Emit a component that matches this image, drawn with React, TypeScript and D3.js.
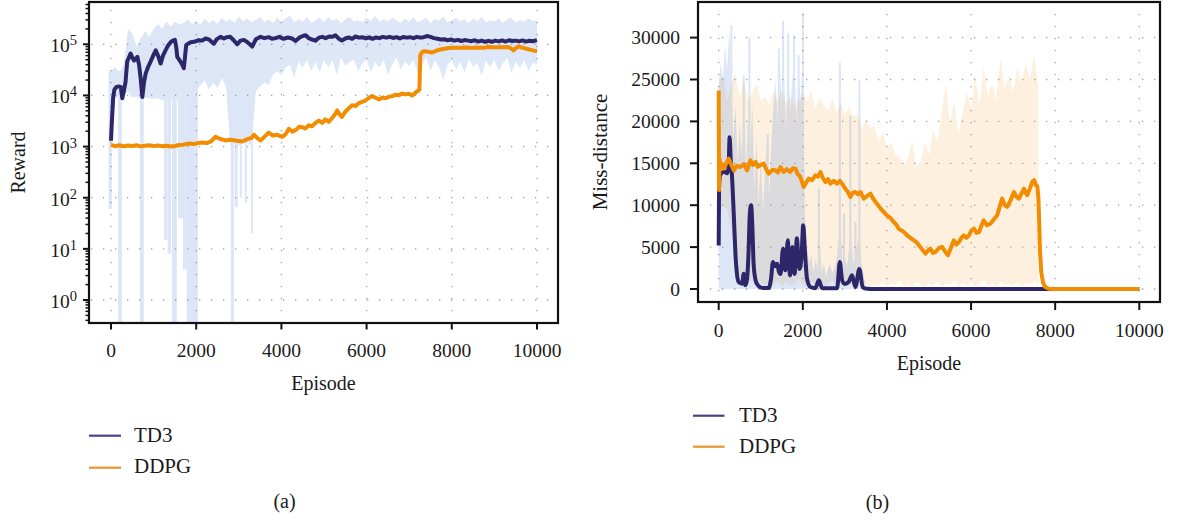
import React from 'react';
import * as d3 from 'd3';

const FONT = '"Liberation Serif", "Times New Roman", serif';
const NAVY = '#2d2669';
const ORANGE = '#f28c00';
const RAW_BLUE = 'rgb(90,135,220)';
const TEXT = '#1a1a1a';

const episodeTicks = [0, 2000, 4000, 6000, 8000, 10000];
const rewardExponents = [0, 1, 2, 3, 4, 5];
const missTicks = [0, 5000, 10000, 15000, 20000, 25000, 30000];
const seriesNames = ['TD3', 'DDPG'];
const RAW_STEP = 100;
const TD3_MISS_STEP = 50;

// ---- (a) Reward, smoothed curves [episode, reward]
const td3Reward: [number, number][] = [
  [0, 1300], [20, 3000], [50, 9000], [80, 13000], [120, 14500], [180, 15000], [230, 14500], [265, 8800], [300, 12000], [340, 18000],
  [380, 46000], [420, 55000], [460, 66000], [500, 55000], [540, 48000], [580, 52000], [620, 57000], [660, 39000], [700, 20000], [735, 9300],
  [775, 18000], [815, 27000], [870, 36000], [930, 46000], [990, 60000], [1050, 76000], [1110, 58000], [1165, 42000], [1220, 60000], [1280, 76000],
  [1340, 95000], [1400, 110000], [1450, 118000], [1500, 122000], [1530, 90000], [1555, 57000], [1600, 50000], [1630, 46000], [1670, 40000], [1710, 34000],
  [1740, 60000], [1765, 96000], [1820, 104000], [1870, 110000], [1950, 112000], [2060, 120000], [2140, 118000], [2220, 130000], [2300, 124000], [2360, 112000],
  [2415, 103000], [2480, 125000], [2570, 140000], [2650, 130000], [2720, 138000], [2800, 140000], [2880, 120000], [2960, 100000], [3040, 118000], [3120, 122000],
  [3200, 110000], [3260, 100000], [3315, 90000], [3400, 125000], [3510, 140000], [3600, 132000], [3700, 138000], [3780, 128000], [3860, 132000], [3950, 140000],
  [4050, 128000], [4150, 136000], [4250, 130000], [4330, 116000], [4420, 135000], [4500, 145000], [4570, 150000], [4650, 130000], [4720, 124000], [4800, 118000],
  [4880, 135000], [4960, 140000], [5040, 132000], [5120, 142000], [5200, 140000], [5270, 150000], [5340, 130000], [5420, 118000], [5500, 130000], [5580, 136000],
  [5660, 128000], [5740, 142000], [5820, 135000], [5900, 138000], [5980, 130000], [6060, 137000], [6140, 128000], [6220, 136000], [6300, 132000], [6380, 140000],
  [6460, 135000], [6540, 140000], [6620, 133000], [6700, 138000], [6780, 130000], [6860, 139000], [6940, 135000], [7020, 138000], [7100, 132000], [7180, 140000],
  [7260, 135000], [7340, 138000], [7420, 145000], [7500, 140000], [7580, 132000], [7660, 128000], [7740, 124000], [7820, 126000], [7900, 120000], [7980, 124000],
  [8060, 118000], [8140, 122000], [8220, 116000], [8300, 121000], [8380, 118000], [8460, 115000], [8540, 120000], [8620, 113000], [8700, 118000], [8780, 112000],
  [8860, 117000], [8940, 112000], [9020, 118000], [9100, 114000], [9180, 119000], [9260, 113000], [9340, 120000], [9420, 116000], [9500, 118000], [9580, 114000],
  [9660, 119000], [9740, 113000], [9820, 117000], [9900, 115000], [10000, 121000],
];

const ddpgReward: [number, number][] = [
  [0, 1080], [100, 1020], [200, 1060], [300, 1010], [400, 1050], [500, 1030], [600, 1060], [700, 1010], [800, 1040], [900, 1060],
  [1000, 1020], [1100, 1050], [1200, 1020], [1300, 1040], [1400, 1000], [1500, 1030], [1600, 1070], [1700, 1090], [1830, 1150], [1950, 1120],
  [2050, 1180], [2140, 1200], [2250, 1170], [2350, 1260], [2450, 1550], [2550, 1420], [2690, 1320], [2800, 1360], [2950, 1300], [3080, 1260],
  [3200, 1400], [3300, 1480], [3360, 1700], [3440, 1450], [3510, 1320], [3600, 1550], [3700, 1870], [3800, 1650], [3900, 1700], [4020, 1550],
  [4100, 1750], [4175, 2230], [4260, 1950], [4350, 2150], [4420, 2450], [4490, 2400], [4560, 2250], [4640, 2600], [4720, 2500], [4800, 2900],
  [4880, 3230], [4960, 2900], [5030, 3400], [5110, 3030], [5200, 3700], [5260, 4300], [5310, 5100], [5360, 4300], [5420, 3800], [5500, 4800],
  [5580, 5600], [5660, 6450], [5740, 6200], [5810, 7000], [5890, 7450], [5960, 7800], [6040, 8800], [6130, 9700], [6210, 9000], [6290, 8400],
  [6380, 9100], [6450, 8800], [6520, 9400], [6600, 9700], [6680, 10300], [6760, 10100], [6830, 10900], [6900, 10500], [6990, 10800], [7070, 10000],
  [7140, 11200], [7220, 12600], [7240, 13000], [7260, 61000], [7300, 70000], [7340, 73000], [7420, 72000], [7540, 69000], [7620, 74000], [7700, 78000],
  [7800, 81000], [7930, 84700], [8050, 86000], [8200, 85500], [8350, 86500], [8470, 85000], [8600, 87000], [8750, 86000], [8860, 88700], [9000, 87500],
  [9150, 88000], [9330, 88700], [9400, 82000], [9450, 76000], [9500, 84000], [9570, 91400], [9650, 86000], [9800, 80000], [9900, 76000], [10000, 73000],
];

// raw TD3 reward envelope, one value per 100 episodes (0..10000)
const td3RawRewardHigh = [
  3.1e4, 3.5e4, 2.8e4, 4.0e4, 2.0e5, 1.6e5, 9.0e4, 1.3e5, 1.8e5, 1.4e5,
  2.0e5, 2.5e5, 2.0e5, 2.8e5, 2.2e5, 2.8e5, 2.4e5, 2.6e5, 3.1e5, 2.5e5,
  2.8e5, 2.4e5, 3.2e5, 2.6e5, 3.0e5, 2.5e5, 3.3e5, 2.8e5, 3.1e5, 2.6e5,
  3.5e5, 2.8e5, 3.2e5, 2.7e5, 3.0e5, 3.4e5, 2.7e5, 3.1e5, 2.6e5, 3.3e5,
  2.8e5, 3.2e5, 3.6e5, 2.7e5, 3.1e5, 2.8e5, 3.4e5, 2.6e5, 3.0e5, 3.3e5,
  2.7e5, 3.5e5, 2.9e5, 3.2e5, 2.6e5, 3.1e5, 3.4e5, 2.8e5, 3.0e5, 2.7e5,
  3.3e5, 2.9e5, 3.6e5, 2.7e5, 3.1e5, 2.8e5, 3.3e5, 3.0e5, 2.6e5, 3.2e5,
  2.8e5, 3.4e5, 2.7e5, 3.0e5, 3.3e5, 2.6e5, 3.1e5, 2.9e5, 3.5e5, 2.7e5,
  3.0e5, 3.3e5, 2.8e5, 3.1e5, 2.6e5, 3.2e5, 2.9e5, 3.4e5, 2.7e5, 3.0e5,
  2.8e5, 3.2e5, 2.6e5, 3.1e5, 3.3e5, 2.7e5, 3.0e5, 2.8e5, 3.2e5, 2.9e5,
  3.0e5,
];
const td3RawRewardLow = [
  1.5e3, 9.0e3, 9.5e3, 1.0e4, 1.2e4, 9.0e3, 9.5e3, 8.5e3, 9.0e3, 8.8e3,
  8.5e3, 9.0e3, 8.0e3, 8.5e3, 9.0e3, 8.0e3, 8.5e3, 1.0e4, 7.5e3, 8.0e3,
  1.2e4, 1.6e4, 2.0e4, 1.3e4, 1.8e4, 1.4e4, 2.2e4, 1.5e4, 1.0e3, 1.2e3,
  1.0e3, 1.5e3, 1.2e3, 1.0e3, 1.2e4, 1.5e4, 1.8e4, 1.6e4, 2.5e4, 3.0e4,
  2.5e4, 3.5e4, 4.0e4, 2.2e4, 4.5e4, 3.5e4, 5.0e4, 3.0e4, 4.5e4, 2.8e4,
  5.0e4, 3.5e4, 4.8e4, 2.5e4, 5.5e4, 3.8e4, 4.5e4, 5.0e4, 3.0e4, 4.2e4,
  5.2e4, 2.8e4, 4.5e4, 3.5e4, 5.0e4, 2.5e4, 4.0e4, 5.5e4, 3.2e4, 4.5e4,
  3.8e4, 5.0e4, 2.6e4, 4.2e4, 5.5e4, 3.0e4, 4.8e4, 3.5e4, 2.0e4, 4.0e4,
  5.0e4, 3.2e4, 4.5e4, 2.8e4, 5.2e4, 3.6e4, 4.4e4, 2.4e4, 4.8e4, 3.5e4,
  5.0e4, 3.0e4, 4.2e4, 5.5e4, 2.8e4, 4.6e4, 3.4e4, 5.0e4, 3.0e4, 4.4e4,
  4.0e4,
];
// deep drops of raw TD3 reward: [from episode, to episode, lowest reward]
const td3RewardDrops: [number, number, number][] = [
  [-60, 20, 60], [165, 255, 0.2], [680, 770, 0.2], [1245, 1330, 15], [1330, 1410, 8],
  [1430, 1545, 0.2], [1570, 1690, 40], [1690, 1780, 4], [1780, 2040, 0.2], [2815, 2885, 0.2],
  [2905, 2975, 65], [3025, 3070, 100], [3140, 3190, 80], [3285, 3330, 20],
];

// ---- (b) Miss-distance, smoothed curves
const td3Miss: [number, number][] = [
  [0, 5200], [8, 12000], [30, 13500], [80, 13900], [150, 14000], [200, 13800], [235, 14500], [260, 18100], [285, 15500], [310, 14000],
  [340, 11000], [370, 7500], [400, 4000], [430, 2000], [475, 840], [520, 700], [555, 640], [595, 1830], [635, 440], [675, 1230],
  [710, 4420], [740, 9000], [770, 9980], [800, 7500], [830, 3000], [870, 1200], [910, 600], [990, 200], [1070, 120], [1190, 120],
  [1245, 1230], [1290, 3220], [1340, 2700], [1390, 3000], [1430, 2100], [1470, 1800], [1530, 4810], [1560, 3000], [1585, 2230], [1645, 5810],
  [1670, 3000], [1700, 1630], [1750, 5010], [1780, 3000], [1805, 1800], [1860, 6050], [1895, 3500], [1925, 2400], [1970, 4000], [2010, 7600],
  [2050, 4500], [2100, 1200], [2180, 240], [2300, 100], [2380, 1030], [2460, 100], [2815, 100], [2880, 3220], [2935, 1030], [3000, 600],
  [3090, 840], [3170, 1630], [3250, 240], [3345, 2400], [3425, 200], [3530, 30], [3700, 0], [10000, 0],
];

const ddpgMiss: [number, number][] = [
  [0, 23700], [8, 11800], [20, 15500], [40, 14760], [80, 14900], [120, 14360], [180, 15000], [240, 15550], [300, 14800], [360, 14160],
  [430, 14700], [515, 14560], [600, 14900], [675, 14160], [755, 15355], [815, 14800], [875, 15160], [930, 14600], [990, 14760], [1070, 14960],
  [1130, 14300], [1190, 13760], [1270, 14200], [1350, 14160], [1410, 13900], [1470, 14560], [1545, 13960], [1620, 14300], [1700, 13960], [1760, 14400],
  [1825, 14360], [1880, 13700], [1940, 13370], [1980, 12800], [2020, 12170], [2080, 12700], [2140, 13170], [2220, 13000], [2300, 13560], [2360, 13400],
  [2420, 13960], [2480, 13200], [2540, 12770], [2600, 13100], [2655, 12570], [2740, 12900], [2815, 12570], [2880, 12900], [2935, 12570], [3010, 11970],
  [3070, 11600], [3130, 10980], [3190, 11500], [3250, 11575], [3310, 11300], [3370, 11575], [3450, 10780], [3530, 11100], [3610, 11380], [3670, 10800],
  [3730, 10380], [3790, 10000], [3850, 9590], [3920, 9200], [4000, 8790], [4080, 8500], [4160, 8000], [4220, 7700], [4280, 7200], [4380, 6900],
  [4480, 6400], [4560, 6100], [4640, 5810], [4700, 5600], [4760, 5210], [4840, 4700], [4915, 4220], [4975, 4600], [5035, 4810], [5095, 4300],
  [5155, 4420], [5235, 4900], [5315, 5010], [5380, 4500], [5450, 4020], [5520, 4900], [5590, 5810], [5650, 5300], [5710, 5610], [5770, 6100],
  [5830, 6400], [5890, 6100], [5950, 6400], [6010, 7000], [6070, 7200], [6130, 6700], [6190, 6800], [6250, 7600], [6300, 8195], [6380, 7600],
  [6460, 7800], [6540, 8300], [6620, 8790], [6680, 9800], [6740, 10780], [6800, 10000], [6860, 9790], [6940, 10600], [7020, 11575], [7080, 11000],
  [7140, 10780], [7200, 11400], [7260, 11970], [7300, 11500], [7335, 11200], [7400, 12000], [7455, 12770], [7500, 13000], [7540, 12400], [7575, 12300],
  [7600, 11000], [7620, 8000], [7640, 4500], [7670, 2000], [7710, 800], [7760, 250], [7850, 30], [7950, 0], [10000, 0],
];

// raw DDPG miss-distance envelope, one value per 100 episodes (0..7600)
const ddpgRawMissHigh = [
  25000, 25500, 22500, 24500, 25800, 23000, 25000, 22500, 23500, 24500,
  22500, 23000, 22000, 23500, 22500, 23800, 22200, 23000, 21800, 22500,
  23500, 22300, 23700, 21500, 22800, 22000, 21200, 22700, 21000, 22300,
  20800, 21800, 20500, 21000, 19200, 20200, 19000, 19600, 17500, 18800,
  16800, 17500, 16000, 15800, 14800, 15500, 17800, 14600, 15200, 17500,
  16000, 19000, 17500, 21000, 24500, 19500, 22500, 18500, 21000, 23500,
  21500, 25500, 21800, 26500, 23000, 24500, 22500, 27500, 24000, 25500,
  23500, 26500, 24500, 27000, 25000, 28000, 24000,
];
const ddpgRawMissLow = [
  9000, 10000, 9500, 7000, 3000, 1500, 800, 600, 1200, 400,
  900, 300, 700, 500, 1000, 300, 800, 400, 600, 1100,
  500, 300, 900, 400, 700, 200, 600, 1000, 300, 500,
  800, 400, 700, 300, 900, 500, 200, 600, 400, 800,
  300, 700, 500, 1000, 400, 600, 300, 800, 500, 200,
  700, 400, 900, 300, 600, 500, 1000, 300, 700, 400,
  800, 300, 600, 1100, 400, 700, 300, 900, 500, 600,
  400, 800, 300, 700, 500, 900, 600,
];
// raw TD3 miss-distance envelope, one value per 50 episodes (0..3500)
const td3RawMissHigh = [
  24000, 27000, 25000, 29000, 26000, 31000, 24000, 18000, 22000, 15000,
  20000, 16000, 24000, 14000, 21000, 17000, 22000, 12000, 18000, 10000,
  16000, 9000, 14000, 18000, 11000, 17000, 22000, 25000, 20000, 27000,
  22000, 26000, 19000, 28000, 21000, 25000, 27000, 20000, 26000, 22000,
  29000, 9000, 5000, 3000, 4000, 2000, 3500, 2500, 6000, 2000,
  3000, 1500, 2500, 3000, 1800, 2500, 3500, 6000, 7000, 3000,
  4000, 2500, 5000, 6000, 3000, 4000, 5500, 6000, 3000, 1500,
  500,
];
// isolated raw TD3 spikes: [episode, miss-distance]
const td3MissSpikes: [number, number][] = [
  [300, 31500], [595, 25500], [730, 30000], [1165, 18500], [1430, 28700], [1530, 32000], [1650, 30500],
  [1790, 30300], [1900, 27900], [2005, 32900], [2380, 12000], [2880, 27000], [2980, 9000], [3130, 20700],
  [3250, 8000], [3345, 25000],
];

const gridStyle = { stroke: '#a0a0a0', strokeWidth: 1.3, strokeDasharray: '1.3 10.7' };

export default function App() {
  // ---------- panel (a)
  const fa = { x0: 89, x1: 558, y0: 2, y1: 323 };
  const xA = d3.scaleLinear().domain([0, 10000]).range([111, 537]);
  const yA = d3.scaleLog().domain([1, 1e5]).range([300, 44.3]);

  const rawAreaA = d3
    .area<number>()
    .x((_, i) => xA(i * RAW_STEP))
    .y0((_, i) => yA(td3RawRewardLow[i]))
    .y1((d) => yA(d));
  const lineA = d3
    .line<[number, number]>()
    .x((d) => xA(d[0]))
    .y((d) => yA(d[1]));

  const minorA: number[] = [];
  for (let e = -1; e <= 5; e++) {
    for (let m = 2; m <= 9; m++) {
      const v = m * Math.pow(10, e);
      const py = yA(v);
      if (py > fa.y0 + 1 && py < fa.y1 - 1) minorA.push(v);
    }
  }

  // ---------- panel (b)
  const fb = { x0: 698, x1: 1160, y0: 2, y1: 302 };
  const xB = d3.scaleLinear().domain([0, 10000]).range([718.7, 1139.3]);
  const yB = d3.scaleLinear().domain([0, 30000]).range([289, 37.6]);

  const orangeArea = d3
    .area<number>()
    .x((_, i) => xB(i * RAW_STEP))
    .y0((_, i) => yB(ddpgRawMissLow[i]))
    .y1((d) => yB(d));
  const blueArea = d3
    .area<number>()
    .x((_, i) => xB(i * TD3_MISS_STEP))
    .y0(() => yB(0))
    .y1((d) => yB(d));
  const td3LineB = d3
    .line<[number, number]>()
    .x((d) => xB(d[0]))
    .y((d) => yB(d[1]))
    .curve(d3.curveMonotoneX);
  const ddpgLineB = d3
    .line<[number, number]>()
    .x((d) => xB(d[0]))
    .y((d) => yB(d[1]));

  const tickFont = 19.5;

  return (
    <svg
      width={1177}
      height={523}
      style={{ position: 'absolute', left: 0, top: 0, background: '#fff' }}
      fontFamily={FONT}
    >
      <defs>
        <clipPath id="clipA">
          <rect x={fa.x0} y={fa.y0} width={fa.x1 - fa.x0} height={fa.y1 - fa.y0} />
        </clipPath>
        <clipPath id="clipB">
          <rect x={fb.x0} y={fb.y0} width={fb.x1 - fb.x0} height={fb.y1 - fb.y0} />
        </clipPath>
      </defs>
      <rect x={0} y={0} width={1177} height={523} fill="#fff" />

      {/* ================= Panel (a) ================= */}
      <g>
        {rewardExponents.map((e) => (
          <line key={'ga' + e} x1={fa.x0 + 2} x2={fa.x1} y1={yA(Math.pow(10, e))} y2={yA(Math.pow(10, e))} {...gridStyle} />
        ))}
        {episodeTicks.map((t) => (
          <line key={'gva' + t} x1={xA(t)} x2={xA(t)} y1={fa.y0 + 8} y2={fa.y1} {...gridStyle} />
        ))}
        <g clipPath="url(#clipA)">
          <g opacity={0.2}>
            <path d={rawAreaA(td3RawRewardHigh) || ''} fill={RAW_BLUE} />
            {td3RewardDrops.map((s, i) => (
              <rect
                key={'dr' + i}
                x={xA(s[0])}
                width={xA(s[1]) - xA(s[0])}
                y={yA(3e4)}
                height={yA(s[2]) - yA(3e4)}
                fill={RAW_BLUE}
              />
            ))}
          </g>
          <path d={lineA(ddpgReward) || ''} fill="none" stroke={ORANGE} strokeWidth={4} strokeLinejoin="round" />
          <path d={lineA(td3Reward) || ''} fill="none" stroke={NAVY} strokeWidth={4} strokeLinejoin="round" />
        </g>
        <rect x={fa.x0} y={fa.y0} width={fa.x1 - fa.x0} height={fa.y1 - fa.y0} fill="none" stroke="#111" strokeWidth={2.2} />
        {/* y ticks */}
        {rewardExponents.map((e) => {
          const py = yA(Math.pow(10, e));
          return (
            <g key={'ya' + e}>
              <line x1={fa.x0 - 6} x2={fa.x0} y1={py} y2={py} stroke="#111" strokeWidth={2} />
              <text x={77} y={py + 7.8} textAnchor="end" fill={TEXT} fontSize={19.5}>
                10
                <tspan fontSize={14.5} dy={-6.8}>
                  {e}
                </tspan>
              </text>
            </g>
          );
        })}
        {minorA.map((v, i) => (
          <line key={'mn' + i} x1={fa.x0 - 3.5} x2={fa.x0} y1={yA(v)} y2={yA(v)} stroke="#111" strokeWidth={1.5} />
        ))}
        {/* x ticks */}
        {episodeTicks.map((t) => (
          <g key={'xa' + t}>
            <line x1={xA(t)} x2={xA(t)} y1={fa.y1} y2={fa.y1 + 6.5} stroke="#111" strokeWidth={2} />
            <text x={xA(t)} y={357} textAnchor="middle" fill={TEXT} fontSize={tickFont}>
              {t}
            </text>
          </g>
        ))}
        <text x={(fa.x0 + fa.x1) / 2} y={390} textAnchor="middle" fill={TEXT} fontSize={20}>
          Episode
        </text>
        <text transform={`translate(25,${(fa.y0 + fa.y1) / 2}) rotate(-90)`} textAnchor="middle" fill={TEXT} fontSize={20}>
          Reward
        </text>
        {/* legend */}
        {seriesNames.map((n, i) => (
          <g key={'la' + n}>
            <line x1={89} x2={121} y1={435.7 + i * 32} y2={435.7 + i * 32} stroke={i === 0 ? '#4b4289' : '#e8952f'} strokeWidth={2.2} />
            <text x={134} y={441.7 + i * 31.6} fill={TEXT} fontSize={21}>
              {n}
            </text>
          </g>
        ))}
        <text x={284.5} y={508} textAnchor="middle" fill={TEXT} fontSize={20}>
          (a)
        </text>
      </g>

      {/* ================= Panel (b) ================= */}
      <g>
        {missTicks.map((t) => (
          <line key={'gb' + t} x1={fb.x0 + 12} x2={fb.x1} y1={yB(t)} y2={yB(t)} {...gridStyle} />
        ))}
        {episodeTicks.map((t) => (
          <line key={'gvb' + t} x1={xB(t)} x2={xB(t)} y1={fb.y0 + 12} y2={fb.y1} {...gridStyle} />
        ))}
        <g clipPath="url(#clipB)">
          <g opacity={0.13}>
            <path d={orangeArea(ddpgRawMissHigh) || ''} fill={ORANGE} />
          </g>
          <g opacity={0.2}>
            <path d={blueArea(td3RawMissHigh) || ''} fill={RAW_BLUE} />
            {td3MissSpikes.map((s, i) => (
              <rect key={'sp' + i} x={xB(s[0] - 25)} width={xB(50) - xB(0)} y={yB(s[1])} height={yB(0) - yB(s[1])} fill={RAW_BLUE} />
            ))}
          </g>
          <path d={td3LineB(td3Miss) || ''} fill="none" stroke={NAVY} strokeWidth={4} strokeLinejoin="round" />
          <path d={ddpgLineB(ddpgMiss) || ''} fill="none" stroke={ORANGE} strokeWidth={4} strokeLinejoin="round" />
        </g>
        <rect x={fb.x0} y={fb.y0} width={fb.x1 - fb.x0} height={fb.y1 - fb.y0} fill="none" stroke="#111" strokeWidth={2.2} />
        {missTicks.map((t) => (
          <g key={'yb' + t}>
            <line x1={fb.x0 - 8} x2={fb.x0} y1={yB(t)} y2={yB(t)} stroke="#111" strokeWidth={2} />
            <text x={680} y={yB(t) + 6.5} textAnchor="end" fill={TEXT} fontSize={tickFont}>
              {t}
            </text>
          </g>
        ))}
        {episodeTicks.map((t) => (
          <g key={'xb' + t}>
            <line x1={xB(t)} x2={xB(t)} y1={fb.y1} y2={fb.y1 + 8} stroke="#111" strokeWidth={2} />
            <text x={xB(t)} y={337} textAnchor="middle" fill={TEXT} fontSize={tickFont}>
              {t}
            </text>
          </g>
        ))}
        <text x={(fb.x0 + fb.x1) / 2} y={370} textAnchor="middle" fill={TEXT} fontSize={20}>
          Episode
        </text>
        <text transform={`translate(606.5,${(fb.y0 + fb.y1) / 2}) rotate(-90)`} textAnchor="middle" fill={TEXT} fontSize={21}>
          Miss-distance
        </text>
        {seriesNames.map((n, i) => (
          <g key={'lb' + n}>
            <line x1={693} x2={724.5} y1={415.7 + i * 31} y2={415.7 + i * 31} stroke={i === 0 ? '#4b4289' : '#e8952f'} strokeWidth={2.2} />
            <text x={739} y={421.7 + i * 31} fill={TEXT} fontSize={21}>
              {n}
            </text>
          </g>
        ))}
        <text x={877.5} y={509} textAnchor="middle" fill={TEXT} fontSize={20}>
          (b)
        </text>
      </g>
    </svg>
  );
}
